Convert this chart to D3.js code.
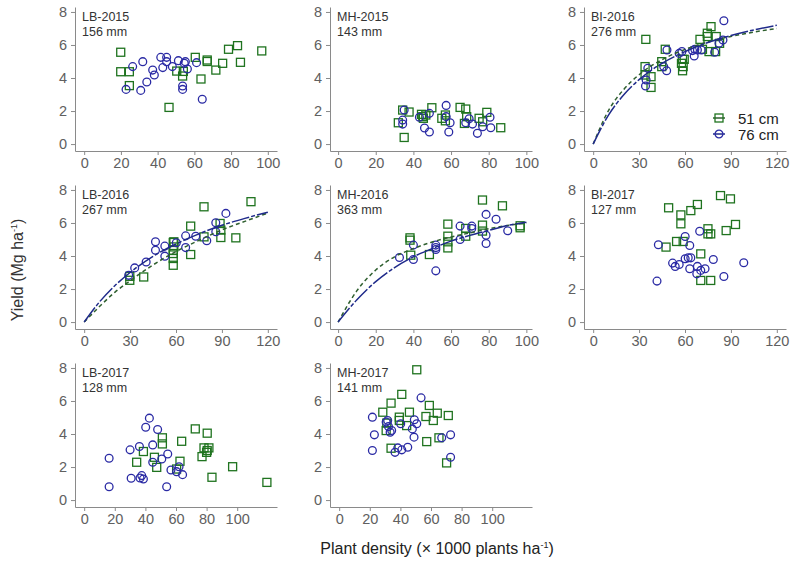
<!DOCTYPE html>
<html>
<head>
<meta charset="utf-8">
<script src="https://cdn.jsdelivr.net/npm/d3@7"></script>
<style>
  body { margin: 0; background: #fff; }
  svg text { font-family: 'Liberation Sans', Arial, sans-serif; }
</style>
</head>
<body>
<div class="display"></div>
<script>
// Yield vs plant density, 8 site-years, 51 cm (squares) and 76 cm (circles) rows

const WIDTH = 800;
const HEIGHT = 561;

const siteYears = ['LB-2015', 'MH-2015', 'BI-2016', 'LB-2016', 'MH-2016', 'BI-2017', 'LB-2017', 'MH-2017'];
const rainfall = ['156 mm', '143 mm', '276 mm', '267 mm', '363 mm', '127 mm', '128 mm', '141 mm'];

const ticks20 = [0, 20, 40, 60, 80, 100];
const ticks30 = [0, 30, 60, 90, 120];
const yTicks = [0, 2, 4, 6, 8];
const seriesLabels = ['51 cm', '76 cm'];

// [plant density, yield]
const lb2015_51 = [[19.9,5.56],[19.9,4.38],[24.6,4.38],[24.6,3.54],[46.2,2.22],[50.4,4.42],[53.6,4.12],[54.0,4.40],[60.5,5.25],[63.6,3.94],[67.0,5.09],[67.0,5.0],[71.7,4.48],[75.4,4.89],[78.6,5.74],[83.5,5.96],[85.1,4.95],[96.7,5.64]];
const lb2015_76 = [[22.8,3.31],[26.4,4.69],[30.8,3.25],[31.9,4.99],[34.1,3.76],[37.3,4.48],[38.2,4.18],[41.7,5.25],[42.8,4.63],[44.9,5.25],[44.9,4.99],[48.0,4.69],[51.3,5.05],[53.6,3.52],[53.6,3.31],[54.5,4.89],[55.1,4.99],[56.2,4.55],[61.2,4.93],[64.3,2.71]];

const mh2015_51 = [[32.0,1.29],[34.3,2.06],[35.1,0.40],[37.7,1.94],[44.3,1.80],[45.3,1.56],[46.6,1.76],[45.0,1.66],[49.8,2.20],[55.1,1.56],[57.0,1.76],[57.0,1.41],[64.8,2.22],[67.8,2.12],[67.1,1.25],[68.3,1.66],[74.9,1.56],[76.8,1.35],[79.0,1.92],[86.4,0.99]];
const mh2015_76 = [[34.3,1.45],[34.3,1.21],[35.1,2.06],[43.2,1.62],[45.9,0.97],[48.5,0.73],[48.5,1.86],[57.4,2.34],[57.4,1.66],[58.8,0.73],[59.5,1.29],[67.8,1.29],[69.6,1.53],[71.4,1.21],[74.0,0.65],[76.8,1.05],[80.7,1.62],[81.1,0.99]];

const bi2016_51 = [[34.4,6.34],[33.9,4.69],[33.9,4.18],[37.8,3.43],[37.8,4.08],[44.8,4.99],[44.8,4.69],[47.1,5.74],[57.7,4.89],[58.4,4.44],[58.4,5.13],[58.8,4.69],[59.5,5.13],[69.8,6.34],[71.4,5.74],[74.6,6.71],[74.6,6.51],[75.7,5.60],[77.0,7.11],[80.0,5.60],[80.4,6.51],[82.6,6.10]];
const bi2016_76 = [[34.2,3.52],[34.6,3.88],[35.7,4.59],[46.1,4.69],[48.0,4.44],[48.2,5.70],[56.2,5.49],[58.0,5.60],[64.9,5.66],[66.0,5.33],[66.4,5.74],[68.1,5.70],[70.7,5.70],[79.4,5.56],[82.2,6.10],[84.8,6.30],[85.4,7.47]];

const lb2016_51 = [[29.8,2.53],[29.8,2.77],[38.9,2.73],[58.2,4.82],[58.2,4.35],[58.2,4.15],[58.2,3.85],[58.2,3.44],[58.6,4.55],[58.6,4.86],[69.6,5.81],[69.6,4.09],[78.3,6.98],[78.3,5.16],[88.8,5.97],[89.3,5.12],[89.3,5.57],[99.1,5.10],[109.0,7.29]];
const lb2016_76 = [[29.1,2.83],[33.0,3.28],[40.5,3.64],[46.6,4.86],[46.6,4.35],[52.7,4.60],[52.7,3.99],[60.2,4.80],[66.3,5.22],[66.3,4.51],[72.9,5.20],[80.1,4.92],[86.0,5.47],[86.0,6.01],[92.6,6.58]];

const mh2016_51 = [[38.2,5.10],[38.2,4.96],[38.6,4.05],[48.5,4.09],[58.3,5.93],[58.3,5.20],[58.3,4.49],[58.3,4.86],[67.8,5.20],[67.8,5.67],[76.7,7.39],[76.7,5.87],[76.7,5.51],[87.3,7.04],[96.7,5.83],[96.7,5.71]];
const mh2016_76 = [[32.6,3.91],[40.0,4.66],[40.0,3.79],[51.9,3.10],[51.9,4.51],[51.9,4.66],[51.9,4.39],[64.8,5.81],[64.8,5.00],[71.0,5.81],[71.0,5.67],[78.6,6.52],[78.6,5.26],[78.6,4.76],[83.9,6.23],[90.1,5.53]];

const bi2017_51 = [[49.3,6.92],[47.6,4.54],[54.5,4.88],[57.3,6.49],[57.3,5.95],[58.8,4.88],[63.8,6.75],[68.1,7.12],[70.3,4.13],[70.3,2.52],[75.0,5.65],[75.0,5.34],[76.8,5.34],[76.8,2.52],[83.2,7.66],[86.9,5.54],[89.7,7.46],[93.0,5.91]];
const bi2017_76 = [[41.7,2.48],[42.6,4.68],[51.9,3.57],[53.6,3.37],[56.2,3.49],[60.1,5.18],[60.1,3.83],[62.1,3.89],[63.1,4.64],[63.1,3.23],[63.8,3.89],[67.7,2.92],[68.1,3.37],[69.6,5.50],[70.3,3.13],[73.1,3.23],[78.5,3.79],[85.4,2.76],[98.4,3.59]];

const lb2017_51 = [[34.3,2.29],[38.7,2.94],[51.1,3.77],[51.1,3.40],[45.9,2.59],[47.4,1.98],[63.7,3.56],[62.6,2.35],[60.4,1.88],[72.6,4.31],[77.0,2.63],[78.3,3.16],[80.4,4.05],[80.4,3.0],[81.5,3.16],[80.0,2.89],[83.5,1.38],[97.0,2.02],[119.4,1.07]];
const lb2017_76 = [[16.3,2.53],[16.3,0.81],[30.0,3.04],[30.7,1.32],[36.1,3.24],[36.5,1.34],[37.6,1.48],[38.7,1.28],[40.2,4.41],[42.6,4.96],[44.8,3.34],[44.8,2.29],[48.0,4.27],[50.7,2.49],[53.9,0.81],[54.6,2.79],[56.7,1.82],[60.4,1.72],[62.0,2.02],[64.3,1.54]];

const mh2017_51 = [[28.5,5.32],[30.7,4.21],[31.1,4.66],[33.9,5.87],[33.9,3.14],[39.3,5.02],[39.3,4.82],[40.9,6.40],[44.1,4.51],[45.9,5.32],[50.7,7.89],[56.7,5.06],[57.2,3.54],[58.9,5.73],[61.5,4.82],[64.1,5.26],[65.2,3.77],[71.3,5.12],[70.2,2.25]];
const mh2017_76 = [[21.7,5.02],[21.7,3.0],[23.0,3.95],[30.7,4.72],[31.7,4.82],[32.2,4.45],[33.3,4.11],[34.3,4.21],[36.5,2.89],[38.3,3.16],[40.9,3.04],[40.2,4.62],[44.8,3.20],[47.8,4.31],[48.9,3.81],[49.1,4.86],[50.7,4.62],[53.5,6.19],[67.0,3.77],[72.8,3.95],[72.8,2.59]];

// fitted response curves
const bi2016_fit51 = [[0,0],[10,2.03],[20,3.31],[30,4.2],[45,5.11],[60,5.73],[75,6.18],[90,6.52],[105,6.78],[120,7.0]];
const bi2016_fit76 = [[0,0],[10,1.75],[20,2.99],[30,3.9],[45,4.89],[60,5.6],[75,6.15],[90,6.57],[105,6.91],[120,7.19]];
const lb2016_fit51 = [[0,0],[10,0.94],[20,1.8],[30,2.5],[45,3.46],[60,4.27],[75,4.95],[90,5.58],[105,6.1],[120,6.6]];
const lb2016_fit76 = [[0,0],[10,1.22],[20,2.2],[30,3.0],[45,3.98],[60,4.73],[75,5.34],[90,5.86],[105,6.28],[120,6.65]];
const mh2016_fit51 = [[0,0],[10,1.9],[20,3.15],[30,3.95],[40,4.45],[50,4.85],[60,5.15],[70,5.4],[80,5.65],[90,5.85],[100,6.0]];
const mh2016_fit76 = [[0,0],[10,1.35],[20,2.45],[30,3.3],[40,3.95],[50,4.45],[60,4.9],[70,5.25],[80,5.55],[90,5.85],[100,6.05]];

const squares = [lb2015_51, mh2015_51, bi2016_51, lb2016_51, mh2016_51, bi2017_51, lb2017_51, mh2017_51];
const circles = [lb2015_76, mh2015_76, bi2016_76, lb2016_76, mh2016_76, bi2017_76, lb2017_76, mh2017_76];
const fits51 = [null, null, bi2016_fit51, lb2016_fit51, mh2016_fit51, null, null, null];
const fits76 = [null, null, bi2016_fit76, lb2016_fit76, mh2016_fit76, null, null, null];
const xTickSets = [ticks20, ticks20, ticks30, ticks30, ticks20, ticks30, ticks20, ticks20];

// layout
const COL_X = [75, 330, 584];
const ROW_Y = [7, 185, 363];
const PW = 202, PH = 144;
const xDomains = [[-5, 105], [-4.3, 103], [-6, 126], [-6, 126], [-4.3, 103], [-6, 126], [-6, 126], [-6, 126]];
const GREEN = '#1f731f', BLUE = '#2a2aa4';
const GREEN_LINE = '#2f5f2f', BLUE_LINE = '#1f2a8a';

const svg = d3.select('.display')
  .append('svg')
  .attr('width', WIDTH)
  .attr('height', HEIGHT);

const line = d3.line().curve(d3.curveMonotoneX);

siteYears.forEach((name, i) => {
  const left = COL_X[i % 3];
  const top = ROW_Y[Math.floor(i / 3)];
  const x = d3.scaleLinear().domain(xDomains[i]).range([left, left + PW]);
  const y = d3.scaleLinear().domain([-0.42, 8.3]).range([top + PH, top]);
  const g = svg.append('g');

  const xAxis = g.append('g')
    .attr('transform', `translate(0,${top + PH})`)
    .call(d3.axisBottom(x).tickValues(xTickSets[i]).tickSize(4).tickSizeOuter(0).tickPadding(3));
  const yAxis = g.append('g')
    .attr('transform', `translate(${left},0)`)
    .call(d3.axisLeft(y).tickValues(yTicks).tickSize(4).tickSizeOuter(0).tickPadding(4));
  [xAxis, yAxis].forEach(a => {
    a.select('.domain').attr('stroke', '#8a8a8a');
    a.selectAll('.tick line').attr('stroke', '#8a8a8a');
    a.selectAll('.tick text').attr('fill', '#606060').style('font-size', '14.5px');
  });

  g.append('text').attr('x', left + 7).attr('y', top + 14)
    .attr('fill', '#333').style('font-size', '12.5px').text(name);
  g.append('text').attr('x', left + 7).attr('y', top + 29)
    .attr('fill', '#333').style('font-size', '12.5px').text(rainfall[i]);

  g.append('g').selectAll('rect')
    .data(squares[i])
    .enter()
    .append('rect')
    .attr('x', d => x(d[0]) - 4)
    .attr('y', d => y(d[1]) - 4)
    .attr('width', 8)
    .attr('height', 8)
    .attr('fill', 'none')
    .attr('stroke', GREEN)
    .attr('stroke-width', 1.3);

  g.append('g').selectAll('circle')
    .data(circles[i])
    .enter()
    .append('circle')
    .attr('cx', d => x(d[0]))
    .attr('cy', d => y(d[1]))
    .attr('r', 3.9)
    .attr('fill', 'none')
    .attr('stroke', BLUE)
    .attr('stroke-width', 1.3);

  line.x(d => x(d[0])).y(d => y(d[1]));
  if (fits51[i]) {
    g.append('path').attr('d', line(fits51[i]))
      .attr('fill', 'none').attr('stroke', GREEN_LINE)
      .attr('stroke-width', 1.5).attr('stroke-dasharray', '4,3');
  }
  if (fits76[i]) {
    g.append('path').attr('d', line(fits76[i]))
      .attr('fill', 'none').attr('stroke', BLUE_LINE)
      .attr('stroke-width', 1.5).attr('stroke-dasharray', '18,2,4,2');
  }
});

// legend inside BI-2016
const legend = svg.append('g').attr('transform', 'translate(719,118)');
seriesLabels.forEach((label, i) => {
  const row = legend.append('g').attr('transform', `translate(0,${i * 16})`);
  row.append('line').attr('x1', -6).attr('x2', 6)
    .attr('stroke', i === 0 ? GREEN_LINE : BLUE_LINE).attr('stroke-width', 1.5);
  if (i === 0) {
    row.append('rect').attr('x', -4).attr('y', -4).attr('width', 8).attr('height', 8)
      .attr('fill', 'none').attr('stroke', GREEN).attr('stroke-width', 1.3);
  } else {
    row.append('circle').attr('r', 3.9)
      .attr('fill', 'none').attr('stroke', BLUE).attr('stroke-width', 1.3);
  }
  row.append('text').attr('x', 19).attr('y', 5.5)
    .attr('fill', '#222').style('font-size', '15px').text(label);
});

// axis titles
const yTitle = svg.append('text')
  .attr('transform', 'translate(23,270) rotate(-90)')
  .attr('text-anchor', 'middle')
  .attr('fill', '#333')
  .style('font-size', '16px');
yTitle.append('tspan').text('Yield (Mg ha');
yTitle.append('tspan').attr('dy', -6).style('font-size', '9px').text('-1');
yTitle.append('tspan').attr('dy', 6).text(')');

const xTitle = svg.append('text')
  .attr('x', 437)
  .attr('y', 554)
  .attr('text-anchor', 'middle')
  .attr('fill', '#222')
  .style('font-size', '16px');
xTitle.append('tspan').text('Plant density (\u00d7 1000 plants ha');
xTitle.append('tspan').attr('dy', -6).style('font-size', '9px').text('-1');
xTitle.append('tspan').attr('dy', 6).text(')');
</script>
</body>
</html>
